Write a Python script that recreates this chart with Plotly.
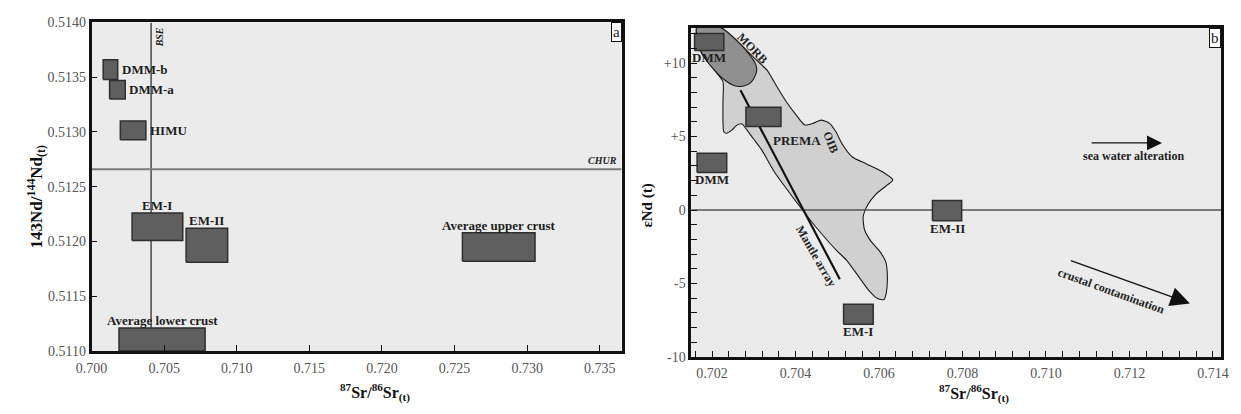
import plotly.graph_objects as go

# ---------------- panel a: 143Nd/144Nd(t) vs 87Sr/86Sr(t) ----------------
a_names = ["DMM-b", "DMM-a", "HIMU", "EM-I", "EM-II",
           "Average lower crust", "Average upper crust"]
a_sr_lo = [0.70080, 0.70124, 0.70198, 0.70279, 0.70651, 0.70189, 0.72554]
a_sr_hi = [0.70180, 0.70232, 0.70374, 0.70628, 0.70937, 0.70782, 0.73054]
a_nd_lo = [0.51348, 0.51330, 0.51293, 0.51201, 0.51181, 0.51100, 0.51182]
a_nd_hi = [0.51366, 0.51347, 0.51310, 0.51226, 0.51212, 0.51121, 0.51208]
a_label_side = ["right", "right", "right", "top", "top", "top", "top"]
bse_sr = 0.7041
chur_nd = 0.51266
a_xticks = [0.700, 0.705, 0.710, 0.715, 0.720, 0.725, 0.730, 0.735]
a_yticks = [0.5110, 0.5115, 0.5120, 0.5125, 0.5130, 0.5135, 0.5140]

# ---------------- panel b: eNd(t) vs 87Sr/86Sr(t) ----------------
b_names = ["DMM", "DMM", "PREMA", "EM-II", "EM-I"]
b_sr_lo = [0.70158, 0.70164, 0.70281, 0.70728, 0.70515]
b_sr_hi = [0.70228, 0.70235, 0.70365, 0.70798, 0.70586]
b_end_lo = [10.87, 2.56, 5.69, -0.74, -7.78]
b_end_hi = [12.02, 3.87, 7.00, 0.64, -6.41]
b_label_side = ["bottom", "bottom", "free", "bottom", "bottom"]
prema_label = (0.70404, 4.70)

# OIB field outline
oib_sr = [0.70163, 0.70222, 0.70261, 0.70300, 0.70332, 0.70355, 0.70379, 0.70402,
          0.70422, 0.70442, 0.70461, 0.70481, 0.70496, 0.70512, 0.70536, 0.70569,
          0.70608, 0.70633, 0.70616, 0.70592, 0.70572, 0.70562, 0.70565, 0.70580,
          0.70600, 0.70616, 0.70620, 0.70617, 0.70612, 0.70596, 0.70576, 0.70553,
          0.70522, 0.70498, 0.70467, 0.70435, 0.70388, 0.70349, 0.70318, 0.70299,
          0.70282, 0.70271, 0.70259, 0.70247, 0.70235, 0.70228, 0.70226, 0.70226,
          0.70226, 0.70206, 0.70187, 0.70171, 0.70163, 0.70163]
oib_end = [12.40, 12.40, 11.48, 10.38, 9.51, 8.41, 7.32, 6.45,
           5.79, 5.90, 6.12, 5.90, 5.36, 4.48, 3.61, 3.15,
           2.60, 2.05, 1.62, 1.07, 0.31, -0.46, -1.33, -2.10,
           -2.75, -3.52, -4.61, -5.70, -6.10, -6.03, -5.49, -4.61,
           -3.41, -2.75, -1.77, -0.68, 1.07, 2.60, 4.13, 4.85,
           5.51, 5.87, 5.77, 5.44, 5.23, 5.33, 6.10, 7.41,
           8.74, 9.51, 10.16, 10.93, 11.91, 12.40]

# MORB field outline
morb_sr = [0.70163, 0.70222, 0.70261, 0.70289, 0.70304, 0.70307, 0.70300, 0.70289,
           0.70269, 0.70249, 0.70230, 0.70206, 0.70187, 0.70171, 0.70163, 0.70163]
morb_end = [12.40, 12.40, 11.48, 10.60, 9.95, 9.51, 8.96, 8.59,
            8.41, 8.52, 8.85, 9.51, 10.16, 10.93, 11.91, 12.40]

# mantle array
mantle_sr = [0.70268, 0.70506]
mantle_end = [8.15, -4.72]

# trend arrows: (tail sr, tail eNd, head sr, head eNd)
seawater_arrow = (0.71106, 4.57, 0.71278, 4.57)
crustal_arrow = (0.71056, -3.41, 0.71345, -6.36)

b_xticks = [0.702, 0.704, 0.706, 0.708, 0.710, 0.712, 0.714]
b_yticks = [-10, -5, 0, 5, 10]
b_yticktext = ["-10", "-5", "0", "+5", "+10"]

# ---------------- styling ----------------
SERIF = "Liberation Serif"
BOX_FILL = "#5f5f5f"
BOX_LINE = "#2e2e2e"
PLOT_BG = "#ebebeb"
LABEL_FONT = dict(family=SERIF, size=13, color="#1e1e1e")

W, H = 1241, 414
fig = go.Figure()


def add_box(x0, x1, y0, y1, xa, ya):
    fig.add_trace(go.Scatter(
        x=[x0, x1, x1, x0, x0], y=[y0, y0, y1, y1, y0],
        mode="lines", fill="toself", fillcolor=BOX_FILL,
        line=dict(color=BOX_LINE, width=1.5),
        xaxis=xa, yaxis=ya, hoverinfo="skip", showlegend=False))


# panel a reference lines
fig.add_trace(go.Scatter(x=[bse_sr, bse_sr], y=[a_yticks[0], a_yticks[-1]], mode="lines",
                         line=dict(color="#4a4a4a", width=1.5), xaxis="x", yaxis="y",
                         hoverinfo="skip", showlegend=False))
fig.add_trace(go.Scatter(x=[0.700, 0.7365], y=[chur_nd, chur_nd], mode="lines",
                         line=dict(color="#7a7a7a", width=2), xaxis="x", yaxis="y",
                         hoverinfo="skip", showlegend=False))

# panel a boxes + labels
for n, x0, x1, y0, y1, side in zip(a_names, a_sr_lo, a_sr_hi, a_nd_lo, a_nd_hi, a_label_side):
    add_box(x0, x1, y0, y1, "x", "y")
    if side == "right":
        fig.add_annotation(x=x1, y=(y0 + y1) / 2, xref="x", yref="y", text=f"<b>{n}</b>",
                           showarrow=False, xanchor="left", yanchor="middle", xshift=2,
                           font=LABEL_FONT)
    else:
        fig.add_annotation(x=(x0 + x1) / 2, y=y1, xref="x", yref="y", text=f"<b>{n}</b>",
                           showarrow=False, xanchor="center", yanchor="bottom", yshift=-2,
                           font=LABEL_FONT)

fig.add_annotation(x=bse_sr, y=0.51386, xref="x", yref="y", text="<b><i>BSE</i></b>",
                   showarrow=False, textangle=-90, xanchor="left", yanchor="middle", xshift=1,
                   font=dict(family=SERIF, size=10, color="#1e1e1e"))
fig.add_annotation(x=0.7365, y=chur_nd, xref="x", yref="y", text="<b><i>CHUR</i></b>",
                   showarrow=False, xanchor="right", yanchor="bottom", xshift=-3, yshift=1,
                   font=dict(family=SERIF, size=10, color="#1e1e1e"))

# panel b fields
fig.add_trace(go.Scatter(x=oib_sr, y=oib_end, mode="lines", fill="toself", fillcolor="#d0d0d0",
                         line=dict(color="#1a1a1a", width=1.1, shape="spline", smoothing=0.6),
                         xaxis="x2", yaxis="y2", hoverinfo="skip", showlegend=False))
fig.add_trace(go.Scatter(x=morb_sr, y=morb_end, mode="lines", fill="toself", fillcolor="#909090",
                         line=dict(color="#1a1a1a", width=1.1, shape="spline", smoothing=0.6),
                         xaxis="x2", yaxis="y2", hoverinfo="skip", showlegend=False))

# zero line
fig.add_trace(go.Scatter(x=[0.7015, 0.7142], y=[0, 0], mode="lines",
                         line=dict(color="#555555", width=1.5), xaxis="x2", yaxis="y2",
                         hoverinfo="skip", showlegend=False))

# mantle array
fig.add_trace(go.Scatter(x=mantle_sr, y=mantle_end, mode="lines",
                         line=dict(color="#111111", width=2.2), xaxis="x2", yaxis="y2",
                         hoverinfo="skip", showlegend=False))

# panel b boxes + labels
for n, x0, x1, y0, y1, side in zip(b_names, b_sr_lo, b_sr_hi, b_end_lo, b_end_hi, b_label_side):
    add_box(x0, x1, y0, y1, "x2", "y2")
    if side == "bottom":
        fig.add_annotation(x=(x0 + x1) / 2, y=y0, xref="x2", yref="y2", text=f"<b>{n}</b>",
                           showarrow=False, xanchor="center", yanchor="top", yshift=2,
                           font=dict(family=SERIF, size=13, color="#1e1e1e"))
    else:
        fig.add_annotation(x=prema_label[0], y=prema_label[1], xref="x2", yref="y2",
                           text=f"<b>{n}</b>", showarrow=False,
                           xanchor="center", yanchor="middle",
                           font=dict(family=SERIF, size=13, color="#1e1e1e"))

free_b = [("MORB", 0.70296, 11.04, 46), ("OIB", 0.70486, 4.59, 68),
          ("Mantle array", 0.70449, -3.13, 60), ("sea water alteration", 0.71209, 3.69, 0),
          ("crustal contamination", 0.71157, -5.49, 20)]
for t, x, y, ang in free_b:
    fig.add_annotation(x=x, y=y, xref="x2", yref="y2", text=f"<b>{t}</b>", showarrow=False,
                       xanchor="center", yanchor="middle", textangle=ang,
                       font=dict(family=SERIF, size=12, color="#1e1e1e"))

for (tx, ty, hx, hy), size in ((seawater_arrow, 2.3), (crustal_arrow, 3.0)):
    fig.add_annotation(x=hx, y=hy, ax=tx, ay=ty, xref="x2", yref="y2", axref="x2", ayref="y2",
                       text="", showarrow=True, arrowhead=2, arrowsize=size, arrowwidth=1.3,
                       arrowcolor="#111111", standoff=0)

# panel tags
for tag, xr, yt in (("a", 617 / W, 1 - 16 / H), ("b", 1228 / W, 1 - 22 / H)):
    fig.add_annotation(x=xr, y=yt, xref="paper", yref="paper", text=tag, showarrow=False,
                       xanchor="right", yanchor="top", bgcolor="white", bordercolor="#111111",
                       borderwidth=1, borderpad=1,
                       font=dict(family=SERIF, size=15, color="#222222"))

# axis titles
xt = "<b><sup>87</sup>Sr/<sup>86</sup>Sr<sub>(t)</sub></b>"
title_font = dict(family=SERIF, size=16, color="#111111")
fig.add_annotation(x=366 / W, y=1 - 400 / H, xref="paper", yref="paper", text=xt,
                   xanchor="center", yanchor="middle", showarrow=False, font=title_font)
fig.add_annotation(x=976 / W, y=1 - 401 / H, xref="paper", yref="paper", text=xt,
                   xanchor="center", yanchor="middle", showarrow=False, font=title_font)
fig.add_annotation(x=21 / W, y=1 - 197 / H, xref="paper", yref="paper",
                   text="<b>143Nd/<sup>144</sup>Nd<sub>(t)</sub></b>", textangle=-90,
                   xanchor="center", yanchor="middle", showarrow=False,
                   font=dict(family=SERIF, size=17, color="#111111"))
fig.add_annotation(x=643 / W, y=1 - 206 / H, xref="paper", yref="paper",
                   text="<b>\u03b5Nd (t)</b>", textangle=-90,
                   xanchor="center", yanchor="middle", showarrow=False,
                   font=dict(family=SERIF, size=15, color="#111111"))

tickfont = dict(family=SERIF, size=14, color="#555555")
axis_common = dict(showgrid=False, zeroline=False, showline=True, linecolor="#111111",
                   linewidth=2.5, mirror=True, ticks="inside", ticklen=6, tickwidth=1.3,
                   tickcolor="#111111", tickfont=tickfont)

fig.update_layout(
    width=W, height=H, margin=dict(l=0, r=0, t=0, b=0),
    paper_bgcolor="white", plot_bgcolor=PLOT_BG, showlegend=False,
    xaxis=dict(domain=[77 / W, 617 / W], range=[0.700, 0.7365], anchor="y",
               tickvals=a_xticks, tickformat=".3f", ticklabelstandoff=2, **axis_common),
    yaxis=dict(domain=[1 - 357 / H, 1 - 16 / H], range=[0.5110, 0.5140], anchor="x",
               tickvals=a_yticks, tickformat=".4f", **axis_common),
    xaxis2=dict(domain=[688 / W, 1228 / W], range=[0.7015, 0.7142], anchor="y2",
                tickvals=b_xticks, tickformat=".3f", ticklabelstandoff=2,
                minor=dict(ticks="inside", ticklen=6, tickwidth=1.2, tickcolor="#111111",
                           dtick=0.0004, tick0=0.702),
                **axis_common),
    yaxis2=dict(domain=[1 - 363 / H, 1 - 21.7 / H], range=[-10, 12.4], anchor="x2",
                tickvals=b_yticks, ticktext=b_yticktext,
                minor=dict(ticks="inside", ticklen=6, tickwidth=1.2, tickcolor="#111111",
                           dtick=1, tick0=0),
                **axis_common),
)

fig.write_html("out.html")
